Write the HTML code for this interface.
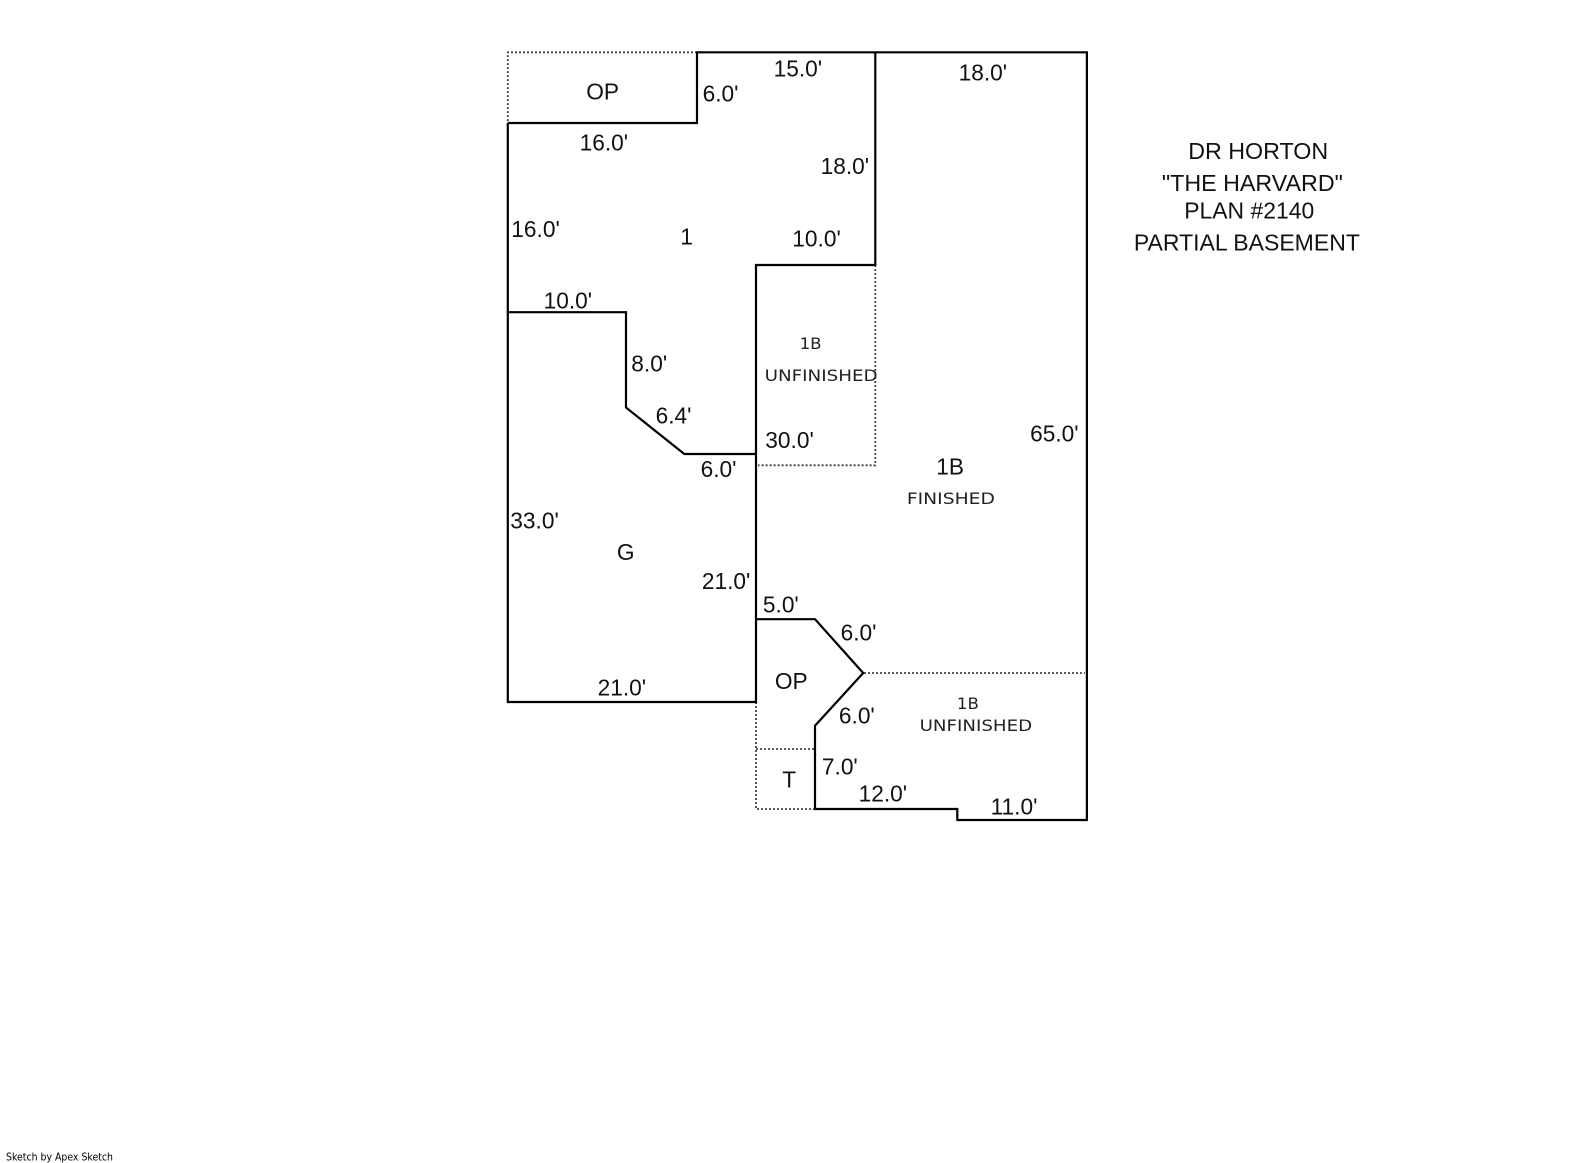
<!DOCTYPE html>
<html><head><meta charset="utf-8"><title>Sketch</title>
<style>html,body{margin:0;padding:0;background:#fff}svg{display:block}
text{font-family:"Liberation Sans",Arial,sans-serif;font-size:22.7px;fill:#111}
.v{font-family:"DejaVu Sans",sans-serif;font-size:16px;fill:#222}
.t{font-size:23px}
.s{font-family:"DejaVu Sans",sans-serif;font-size:11px;fill:#000}
.w{fill:none;stroke:#000;stroke-width:2.2}
.d{fill:none;stroke:#444;stroke-width:1.8;stroke-dasharray:2 2}</style></head>
<body>
<svg width="1585" height="1163" viewBox="0 0 1585 1163" xmlns="http://www.w3.org/2000/svg">
<path class="d" d="M697 52.3H507.8V123"/>
<path class="d" d="M875.3 265V465.3H758"/>
<path class="d" d="M864 673H1085"/>
<path class="d" d="M756 702V809H815"/>
<path class="d" d="M756 749H815"/>
<path class="w" d="M507.8 123H697V52.3H1086.9V820H957.3V809H815V725.7L863.2 673L815 619.2H756"/>
<path class="w" d="M875.3 52.3V265H756V702H507.8V312.2H626V407.5L684.3 454H756"/>
<path class="w" d="M507.8 123V312.2"/>
<g transform="translate(-0.4,-0.4)">
<text x="586.7" y="100">OP</text>
<text x="703" y="101.7">6.0'</text>
<text x="774" y="76.7">15.0'</text>
<text x="959" y="81">18.0'</text>
<text x="580" y="151">16.0'</text>
<text x="821" y="174.3">18.0'</text>
<text x="511.7" y="237.3">16.0'</text>
<text x="680.7" y="245">1</text>
<text x="792.7" y="246.7">10.0'</text>
<text x="544" y="309">10.0'</text>
<text x="631.7" y="371.7">8.0'</text>
<text x="656" y="424">6.4'</text>
<text x="765.7" y="448.3">30.0'</text>
<text x="701" y="477.3">6.0'</text>
<text x="936.7" y="475">1B</text>
<text x="1030.5" y="441.7">65.0'</text>
<text x="510.7" y="529">33.0'</text>
<text x="617.3" y="560.3">G</text>
<text x="702.3" y="589.3">21.0'</text>
<text x="598" y="696">21.0'</text>
<text x="763.3" y="612.7">5.0'</text>
<text x="841" y="640.7">6.0'</text>
<text x="775.3" y="689.3">OP</text>
<text x="839.3" y="724">6.0'</text>
<text x="822.3" y="775">7.0'</text>
<text x="782.7" y="787.7">T</text>
<text x="859" y="801.7">12.0'</text>
<text x="991" y="815">11.0'</text>
<text class="v" x="800" y="349.5" textLength="22" lengthAdjust="spacingAndGlyphs">1B</text>
<text class="v" x="765" y="381.6" textLength="113" lengthAdjust="spacingAndGlyphs">UNFINISHED</text>
<text class="v" x="907.3" y="504.4" textLength="88" lengthAdjust="spacingAndGlyphs">FINISHED</text>
<text class="v" x="957.3" y="709.5" textLength="22" lengthAdjust="spacingAndGlyphs">1B</text>
<text class="v" x="920" y="731.4" textLength="112.5" lengthAdjust="spacingAndGlyphs">UNFINISHED</text>
<text class="t" x="1188.6" y="159.3" textLength="140" lengthAdjust="spacingAndGlyphs">DR HORTON</text>
<text class="t" x="1162.3" y="191.3" textLength="181" lengthAdjust="spacingAndGlyphs">"THE HARVARD"</text>
<text class="t" x="1184.6" y="218.8" textLength="130" lengthAdjust="spacingAndGlyphs">PLAN #2140</text>
<text class="t" x="1134.3" y="251" textLength="226" lengthAdjust="spacingAndGlyphs">PARTIAL BASEMENT</text>
</g>
<text class="s" x="6" y="1160.7" textLength="107" lengthAdjust="spacingAndGlyphs">Sketch by Apex Sketch</text>
</svg>
</body></html>
